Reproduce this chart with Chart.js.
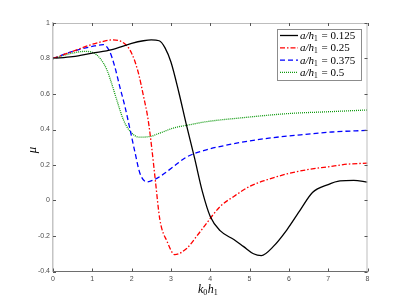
<!DOCTYPE html>
<html><head><meta charset="utf-8">
<script src="https://cdn.jsdelivr.net/npm/chart.js@4.4.1/dist/chart.umd.min.js"></script>
<style>html,body{margin:0;padding:0;background:#fff}#wrap{width:407px;height:305px}</style>
</head><body><div id="wrap"><canvas id="c" width="407" height="305"></canvas></div>
<script>
// ---- data ----
const seriesLabels = ['0.125', '0.25', '0.375', '0.5'];
const xTicks = [0,1,2,3,4,5,6,7,8];
const yTicks = [-0.4,-0.2,0,0.2,0.4,0.6,0.8,1];

const blackX = [0,0.5,1,1.5,2,2.3,2.5,2.7,2.85,3.0,3.2,3.4,3.6,3.8,4.0,4.25,4.6,4.85,5.1,5.3,5.6,5.95,6.3,6.6,7.0,7.3,7.65,8.0];
const blackY = [0.80,0.81,0.83,0.85,0.885,0.90,0.905,0.90,0.86,0.78,0.61,0.42,0.24,0.05,-0.09,-0.17,-0.22,-0.26,-0.30,-0.31,-0.26,-0.165,-0.05,0.045,0.09,0.11,0.113,0.104];

const redX = [0,0.5,1,1.25,1.5,1.8,2.0,2.17,2.3,2.42,2.51,2.6,2.72,2.9,3.1,3.4,3.66,3.9,4.25,4.6,5.0,5.45,5.95,6.45,7.0,7.5,8.0];
const redY = [0.80,0.84,0.88,0.895,0.905,0.887,0.83,0.72,0.59,0.455,0.30,0.12,-0.11,-0.23,-0.305,-0.27,-0.20,-0.13,-0.034,0.023,0.079,0.117,0.15,0.173,0.19,0.205,0.21];

const blueX = [0,0.5,1,1.28,1.44,1.57,1.70,1.83,1.96,2.09,2.21,2.39,2.55,2.72,3.06,3.4,3.9,4.6,5.45,6.3,7.1,8.0];
const blueY = [0.80,0.84,0.868,0.878,0.84,0.755,0.64,0.53,0.40,0.267,0.154,0.105,0.115,0.135,0.19,0.245,0.285,0.32,0.35,0.37,0.386,0.395];

const greenX = [0,0.4,0.8,1.0,1.2,1.37,1.49,1.62,1.79,1.96,2.2,2.45,2.72,3.06,3.48,3.9,4.76,6.0,7.0,8.0];
const greenY = [0.80,0.825,0.84,0.835,0.80,0.737,0.66,0.568,0.455,0.39,0.357,0.36,0.38,0.408,0.427,0.444,0.465,0.49,0.50,0.51];

const pts = (xs, ys) => xs.map((x, i) => ({x, y: ys[i]}));

const styles = [
  {color:'#000000', dash:[]},
  {color:'#ff0000', dash:[5,2,1.5,2]},
  {color:'#0000ff', dash:[5,3]},
  {color:'#109a10', dash:[1,1]}
];
const allX = [blackX, redX, blueX, greenX];
const allY = [blackY, redY, blueY, greenY];

const datasets = seriesLabels.map((lab, i) => ({
  label: lab,
  data: pts(allX[i], allY[i]),
  borderColor: styles[i].color,
  borderDash: styles[i].dash,
  borderWidth: 1.3,
  pointRadius: 0,
  fill: false,
  cubicInterpolationMode: 'monotone'
}));

const fmt = v => { const r = Math.round(v*10)/10; return (Object.is(r,-0)?0:r).toString(); };

const decor = {
  id: 'decor',
  afterDraw(chart) {
    const ctx = chart.ctx, a = chart.chartArea;
    const xs = chart.scales.x, ys = chart.scales.y;
    ctx.save();
    // box top/right
    ctx.strokeStyle = '#bdbdbd'; ctx.lineWidth = 1;
    ctx.beginPath();
    ctx.moveTo(a.left, a.top + 0.5); ctx.lineTo(a.right, a.top + 0.5);
    ctx.moveTo(a.right - 0.5, a.top); ctx.lineTo(a.right - 0.5, a.bottom);
    ctx.stroke();
    // ticks inward
    ctx.strokeStyle = '#555'; ctx.lineWidth = 1;
    ctx.beginPath();
    xTicks.forEach(t => {
      const px = Math.round(xs.getPixelForValue(t)) + 0.5;
      ctx.moveTo(px, a.bottom); ctx.lineTo(px, a.bottom - 3);
      ctx.moveTo(px, a.top); ctx.lineTo(px, a.top + 3);
    });
    yTicks.forEach(t => {
      const py = Math.round(ys.getPixelForValue(t)) + 0.5;
      ctx.moveTo(a.left, py); ctx.lineTo(a.left + 3, py);
      ctx.moveTo(a.right, py); ctx.lineTo(a.right - 3, py);
    });
    ctx.stroke();

    // axis titles
    ctx.fillStyle = '#000';
    ctx.textBaseline = 'alphabetic';
    let x = 198, y = 293;
    const itI = 'italic 12px "Liberation Serif"', sub = '8px "Liberation Serif"';
    ctx.font = itI; ctx.fillText('k', x, y); x += ctx.measureText('k').width;
    ctx.font = sub; ctx.fillText('0', x, y + 2); x += ctx.measureText('0').width + 0.5;
    ctx.font = itI; ctx.fillText('h', x, y); x += ctx.measureText('h').width;
    ctx.font = sub; ctx.fillText('1', x, y + 2);

    ctx.save();
    ctx.translate(36, 150);
    ctx.rotate(-Math.PI/2);
    ctx.font = 'italic 13px "Liberation Serif"';
    ctx.textAlign = 'center';
    ctx.fillText('\u03bc', 0, 0);
    ctx.restore();

    // legend
    const bx = 277, by = 29, bw = 84, bh = 51;
    ctx.fillStyle = '#fff';
    ctx.fillRect(bx, by, bw, bh);
    ctx.strokeStyle = '#8c8c8c'; ctx.lineWidth = 1;
    ctx.strokeRect(bx + 0.5, by + 0.5, bw, bh);
    chart.data.datasets.forEach((ds, i) => {
      const ry = 35.5 + i * 12.3;
      ctx.strokeStyle = ds.borderColor; ctx.lineWidth = 1.3;
      ctx.setLineDash(ds.borderDash);
      ctx.beginPath(); ctx.moveTo(280, ry); ctx.lineTo(298, ry); ctx.stroke();
      ctx.setLineDash([]);
      ctx.fillStyle = '#000';
      let tx = 300; const ty = ry + 3.5;
      ctx.font = 'italic 11px "Liberation Serif"';
      ctx.fillText('a/h', tx, ty); tx += ctx.measureText('a/h').width;
      ctx.font = '7.5px "Liberation Serif"';
      ctx.fillText('1', tx, ty + 2); tx += ctx.measureText('1').width + 1;
      ctx.font = '11px "Liberation Serif"';
      ctx.fillText(' = ' + ds.label, tx, ty);
    });
    ctx.restore();
  }
};

new Chart(document.getElementById('c'), {
  type: 'line',
  data: { datasets },
  options: {
    responsive: false,
    animation: false,
    layout: { padding: { left: 0, top: 23, right: 39.5, bottom: 0 } },
    plugins: { legend: { display: false }, tooltip: { enabled: false } },
    scales: {
      x: {
        type: 'linear', min: 0, max: 8,
        afterBuildTicks: s => { s.ticks = xTicks.map(v => ({value: v})); },
        afterFit: s => { s.height = 33.5; },
        ticks: { color: '#4d4d4d', font: { size: 7, family: 'Liberation Sans' }, padding: 3, maxRotation: 0, callback: v => fmt(v) },
        grid: { display: false, drawTicks: false },
        border: { display: true, color: '#6e6e6e', width: 1 }
      },
      y: {
        type: 'linear', min: -0.4, max: 1,
        afterBuildTicks: s => { s.ticks = yTicks.map(v => ({value: v})); },
        afterFit: s => { s.width = 53; },
        ticks: { color: '#4d4d4d', font: { size: 7, family: 'Liberation Sans' }, padding: 3, callback: v => fmt(v) },
        grid: { display: false, drawTicks: false },
        border: { display: true, color: '#c4c4c4', width: 1.5 }
      }
    }
  },
  plugins: [decor]
});
</script>
</body></html>
